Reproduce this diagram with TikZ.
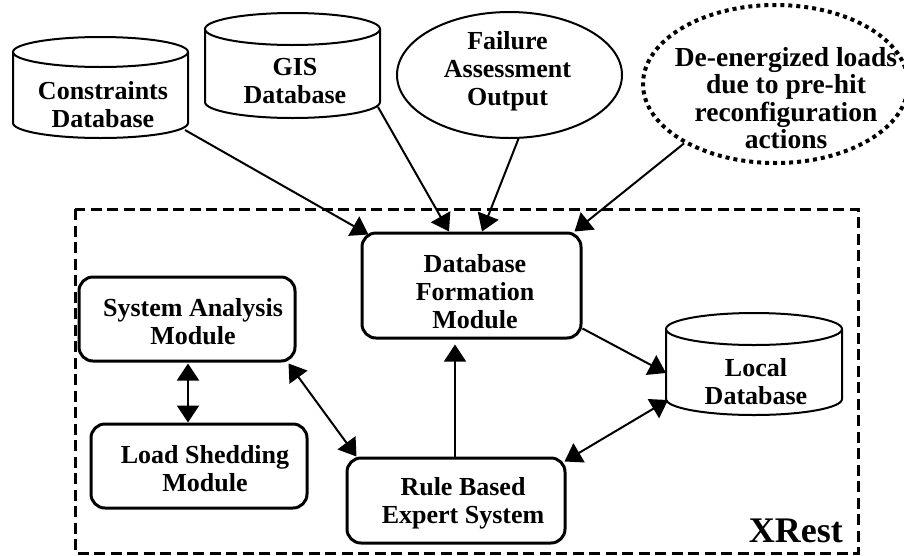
\documentclass[tikz,border=0pt]{standalone}
\usepackage{fontspec}
\setmainfont{Liberation Serif}
\usetikzlibrary{arrows.meta,shapes.geometric,calc}

% outline of an upright cylinder drawn over a named rectangle node
% #1 node name, #2 half width, #3 radius of the end ellipses
\newcommand\cylof[3]{%
  \draw[cylline] ([yshift=-#3]#1.north west) -- ([yshift=#3]#1.south west)
    arc[start angle=180,end angle=360,x radius=#2,y radius=#3]
    -- ([yshift=-#3]#1.north east)
    arc[start angle=0,end angle=360,x radius=#2,y radius=#3];}

\begin{document}
\begin{tikzpicture}[x=1pt,y=-1pt,
  lbl/.style={align=center,font=\fontsize{26}{28}\selectfont\bfseries,inner sep=0pt},
  modbox/.style={draw,line width=3pt,rounded corners=14pt,inner sep=0pt},
  cylbody/.style={inner sep=0pt,outer sep=0pt},
  cylline/.style={line width=2pt},
  tip/.tip={Triangle[length=17pt,width=22pt]},
  link/.style={line width=2pt,-tip},
  thinlink/.style={line width=1.3pt,-tip},
  dlink/.style={line width=2pt,tip-tip},
]
\useasboundingbox (0,0) rectangle (904,555);

% XRest boundary
\draw[line width=3pt,dash pattern=on 11pt off 5.5pt] (75,209) rectangle (858,553);
\node[font=\fontsize{36}{40}\selectfont\bfseries,inner sep=0pt,anchor=base east] (xrest) at (843,542) {XRest};

% external sources
\node[cylbody,minimum width=175pt,minimum height=101pt] (cons) at (100.5,87.5) {};
\cylof{cons}{87.5pt}{15pt}
\node[lbl] (consT) at (103,105) {Constraints\\Database};

\node[cylbody,minimum width=175pt,minimum height=105pt] (gis) at (292.5,65.5) {};
\cylof{gis}{87.5pt}{16pt}
\node[lbl] (gisT) at (295,81) {GIS\\Database};

\node[draw,ellipse,line width=2pt,minimum width=225pt,minimum height=126pt,inner sep=0pt] (fail) at (509.5,75) {};
\node[lbl] (failT) at (507.5,71) {Failure\\Assessment\\Output};

\node[draw,ellipse,line width=4pt,dash pattern=on 4pt off 4pt,minimum width=265pt,minimum height=158pt,inner sep=0pt] (dee) at (775.5,84) {};
\node[lbl,font=\fontsize{27.5}{27.5}\selectfont\bfseries] (deeT) at (786,98) {De-energized loads\\due to pre-hit\\reconfiguration\\actions};

% XRest modules
\node[modbox,minimum width=219pt,minimum height=105pt] (dfm) at (471.5,285.5) {};
\node[lbl] (dfmT) at (475,292) {Database\\Formation\\Module};

\node[modbox,minimum width=216pt,minimum height=84pt] (sam) at (187,319) {};
\node[lbl] (samT) at (193,321.5) {System Analysis\\Module};

\node[modbox,minimum width=216pt,minimum height=84pt] (lsm) at (199,466) {};
\node[lbl] (lsmT) at (205,469) {Load Shedding\\Module};

\node[modbox,minimum width=218pt,minimum height=85pt] (rbes) at (456,500.5) {};
\node[lbl] (rbesT) at (463,503) {Rule Based\\Expert System};

\node[cylbody,minimum width=176pt,minimum height=102pt] (local) at (754,364) {};
\cylof{local}{88pt}{16pt}
\node[lbl] (localT) at (756,381.5) {Local\\Database};

% data flow into the formation module
\draw[link] ([xshift=-3pt,yshift=8pt]cons.south east) -- ([xshift=8pt,yshift=-3pt]dfm.north west);
\draw[link] ([xshift=-2pt,yshift=11pt]gis.south east) -- ([xshift=-22.5pt]dfm.north);
\draw[link] (fail.-82) -- ([xshift=10.5pt]dfm.north);
\draw[link] (dee.213) -- ([xshift=-8pt]dfm.north east);
\draw[thinlink] ([xshift=-1pt]rbes.north) -- ([xshift=-1pt,yshift=-5pt]rbes.north |- dfm.south);

% exchanges inside XRest
\draw[link] ([yshift=11pt]dfm.south east) -- ([yshift=-9pt]local.west);
\draw[dlink] ([xshift=2pt,yshift=15pt]local.south west) -- ([xshift=-2pt,yshift=-5pt]rbes.north east);
\draw[dlink] ([xshift=-8pt,yshift=-1pt]sam.south east) -- ([xshift=11pt]rbes.north west);
\draw[dlink] ([xshift=1pt,yshift=-1pt]sam.south) -- ([xshift=1pt]sam.south |- lsm.north);
\end{tikzpicture}
\end{document}
